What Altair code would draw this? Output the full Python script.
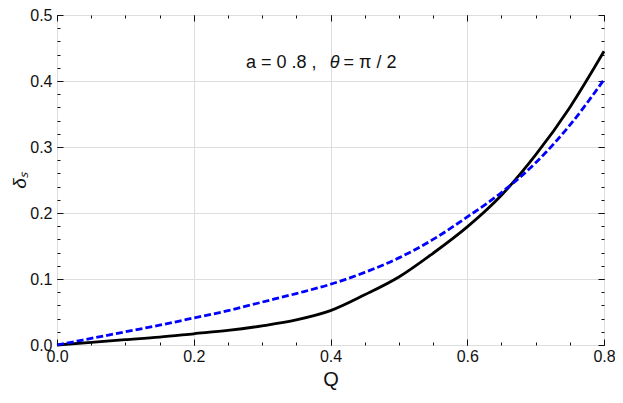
import altair as alt
import pandas as pd

# ---- data ----
Q = [0.0, 0.05, 0.1, 0.15, 0.2, 0.25, 0.3, 0.35, 0.4, 0.45, 0.5, 0.55, 0.6, 0.65, 0.7, 0.75, 0.8]
delta_black = [0.0, 0.004, 0.008, 0.012, 0.017, 0.022, 0.029, 0.038, 0.052, 0.076, 0.103, 0.139, 0.179, 0.227, 0.288, 0.36, 0.445]
delta_blue = [0.0, 0.010, 0.020, 0.030, 0.041, 0.052, 0.065, 0.078, 0.092, 0.110, 0.132, 0.160, 0.194, 0.231, 0.276, 0.333, 0.402]

x_major = [0.0, 0.2, 0.4, 0.6, 0.8]
x_minor = [0.05 * i for i in range(17)]
y_major = [0.0, 0.1, 0.2, 0.3, 0.4, 0.5]
y_minor = [0.02 * i for i in range(26)]

ann_x = [0.4]
ann_y = [0.42]
ann_part1 = "a = 0 .8 ,"
ann_theta = "θ"
ann_part3 = "= π / 2"

W, H = 547, 330
FONT = "Liberation Sans"

df = pd.DataFrame({"Q": Q, "black": delta_black, "blue": delta_blue})
ann = pd.DataFrame({"x": ann_x, "y": ann_y})

xs = alt.Scale(domain=[0, 0.8], nice=False, zero=False)
ys = alt.Scale(domain=[0, 0.5], nice=False, zero=False)

base = alt.Chart(df)

# main black line with labelled axes + grid
black = base.mark_line(color="black", strokeWidth=2.8, interpolate="monotone").encode(
    x=alt.X("Q:Q", scale=xs, axis=alt.Axis(
        values=x_major, format=".1f", grid=True, ticks=False, domain=False,
        labelFlush=False,
        labelFont=FONT, labelFontSize=16, labelColor="#111", labelPadding=3,
        title="Q", titleFont=FONT, titleFontSize=20, titleFontWeight="normal",
        titleColor="#111", titlePadding=5)),
    y=alt.Y("black:Q", scale=ys, axis=alt.Axis(
        values=y_major, format=".1f", grid=True, ticks=False, domain=False,
        labelFlush=False,
        labelFont=FONT, labelFontSize=16, labelColor="#111", labelPadding=5,
        title="δₛ", titleFont=FONT, titleFontSize=19, titleFontWeight="normal",
        titleFontStyle="italic", titleColor="#111", titlePadding=0)),
)

blue = base.mark_line(color="#0000ff", strokeWidth=2.8, strokeDash=[7, 3],
                      interpolate="monotone").encode(
    x=alt.X("Q:Q", scale=xs, axis=None),
    y=alt.Y("blue:Q", scale=ys, axis=None),
)


def tick_layer(xo, yo, xv, yv, size):
    return base.mark_line(opacity=0).encode(
        x=alt.X("Q:Q", scale=xs, axis=alt.Axis(
            orient=xo, offset=-H, values=xv, labels=False, grid=False,
            domain=False, ticks=True, tickSize=size, tickColor="#111",
            tickWidth=1, title=None)),
        y=alt.Y("black:Q", scale=ys, axis=alt.Axis(
            orient=yo, offset=-W, values=yv, labels=False, grid=False,
            domain=False, ticks=True, tickSize=size, tickColor="#111",
            tickWidth=1, title=None)),
    )


t1 = tick_layer("top", "right", x_major, y_major, 6)
t2 = tick_layer("bottom", "left", x_major, y_major, 6)
t3 = tick_layer("top", "right", x_minor, y_minor, 3)
t4 = tick_layer("bottom", "left", x_minor, y_minor, 3)

annb = alt.Chart(ann)
a1 = annb.mark_text(font=FONT, fontSize=18, align="right", baseline="alphabetic",
                    dx=-14, color="#111").encode(
    x=alt.X("x:Q", scale=xs, axis=None), y=alt.Y("y:Q", scale=ys, axis=None),
    text=alt.value(ann_part1))
a2 = annb.mark_text(font=FONT, fontSize=18, fontStyle="italic", align="center",
                    baseline="alphabetic", dx=4, color="#111").encode(
    x=alt.X("x:Q", scale=xs, axis=None), y=alt.Y("y:Q", scale=ys, axis=None),
    text=alt.value(ann_theta))
a3 = annb.mark_text(font=FONT, fontSize=18, align="left", baseline="alphabetic",
                    dx=13, color="#111").encode(
    x=alt.X("x:Q", scale=xs, axis=None), y=alt.Y("y:Q", scale=ys, axis=None),
    text=alt.value(ann_part3))

chart = alt.layer(black, blue, t1, t2, t3, t4, a1, a2, a3).resolve_axis(
    x="independent", y="independent"
).properties(
    width=W, height=H,
    autosize=alt.AutoSizeParams(type="none"),
    padding={"left": 49, "top": 7, "right": 11, "bottom": 45},
).configure_view(
    stroke="#111", strokeWidth=1.4
).configure_axis(
    gridColor="#c8c8c8", gridWidth=1, gridOpacity=1
).configure(background="white")

chart.save("out.html", embed_options={"renderer": "svg", "actions": False})
